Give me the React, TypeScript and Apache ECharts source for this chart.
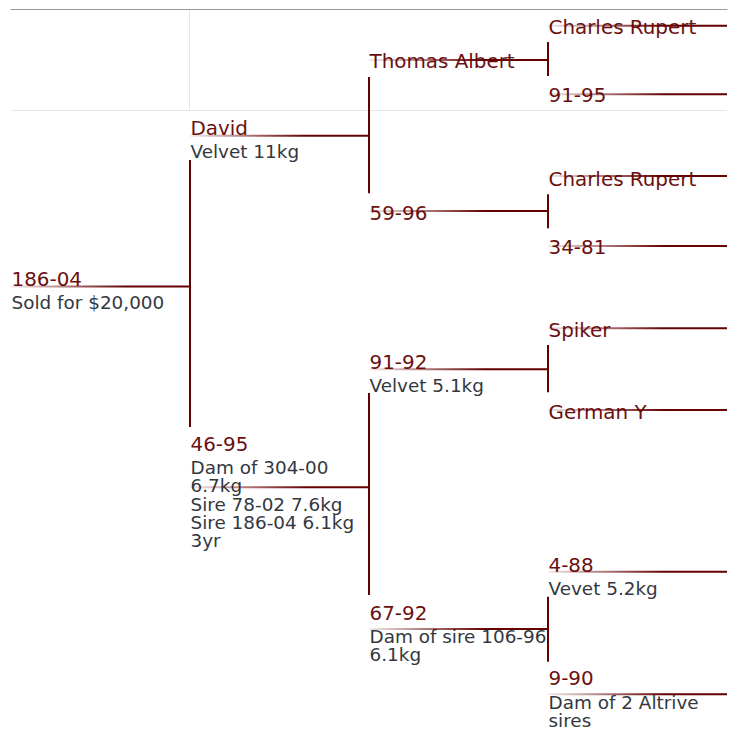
import React, { useEffect, useRef } from "react";
import * as echarts from "echarts";

// Pedigree nodes (generation = column, lineY = position of the node's branch, nameY = label position)
const names = [
  "186-04",
  "David",
  "46-95",
  "Thomas Albert",
  "59-96",
  "91-92",
  "67-92",
  "Charles Rupert",
  "91-95",
  "Charles Rupert",
  "34-81",
  "Spiker",
  "German Y",
  "4-88",
  "9-90",
];
const notes: string[][] = [
  ["Sold for $20,000"],
  ["Velvet 11kg"],
  ["Dam of 304-00", "6.7kg", "Sire 78-02 7.6kg", "Sire 186-04 6.1kg", "3yr"],
  [],
  [],
  ["Velvet 5.1kg"],
  ["Dam of sire 106-96", "6.1kg"],
  [],
  [],
  [],
  [],
  [],
  [],
  ["Vevet 5.2kg"],
  ["Dam of 2 Altrive", "sires"],
];
const generation = [0, 1, 1, 2, 2, 2, 2, 3, 3, 3, 3, 3, 3, 3, 3];
const lineY = [286.5, 135.7, 487.3, 60, 211, 369.3, 629, 25.7, 94.3, 176, 246, 328.3, 410, 571.7, 694.3];
const nameY = [279, 128, 444.3, 61, 213, 362, 613, 27.5, 95.3, 179, 247.5, 330, 412, 565.3, 678.7];

// Vertical connectors between a node and its two parents (sire / dam)
const connectorGen = [1, 2, 2, 3, 3, 3, 3];
const connectorFrom = [160, 77, 393, 42, 194.3, 345, 596.7];
const connectorTo = [427, 193.3, 595, 76, 228.3, 392.3, 661.7];

const FONT = "'DejaVu Sans', Verdana, sans-serif";
const NAME_COLOR = "#6b1010";
const NOTE_COLOR = "#333840";
const LINE_COLOR = "#640000";

export default function App() {
  const ref = useRef<HTMLDivElement>(null);

  useEffect(() => {
    document.body.style.margin = "0";
    const chart = echarts.init(ref.current as HTMLDivElement, null, { renderer: "svg" });

    const nodeData = names.map((_, i) => [generation[i], lineY[i], nameY[i], i]);
    const connectorData = connectorGen.map((g, i) => [g, connectorFrom[i], connectorTo[i]]);

    chart.setOption({
      animation: false,
      grid: { left: 11, right: 11, top: 9, bottom: 0 },
      xAxis: {
        type: "value",
        min: 0,
        max: 4,
        position: "top",
        axisLine: { show: true, lineStyle: { color: "#9a9a9a", width: 1 } },
        axisTick: { show: false },
        axisLabel: { show: false },
        splitLine: { show: false },
      },
      yAxis: { type: "value", min: 9, max: 729, inverse: true, show: false },
      graphic: [
        {
          type: "line",
          z: 0,
          shape: { x1: 11, y1: 110.5, x2: 727, y2: 110.5 },
          style: { stroke: "#e6e6e6", lineWidth: 1 },
        },
        {
          type: "line",
          z: 0,
          shape: { x1: 189.5, y1: 9, x2: 189.5, y2: 111 },
          style: { stroke: "#e6e6e6", lineWidth: 1 },
        },
      ],
      series: [
        {
          type: "custom",
          name: "labels",
          z: 2,
          data: nodeData,
          renderItem: (params: any, api: any) => {
            const i = api.value(3);
            const p = api.coord([api.value(0), api.value(2)]);
            const x = p[0] + 0.5;
            const y = p[1];
            const children: any[] = [
              {
                type: "text",
                style: {
                  text: names[i],
                  x,
                  y,
                  fill: NAME_COLOR,
                  fontSize: 19.9,
                  fontFamily: FONT,
                  align: "left",
                  verticalAlign: "middle",
                },
              },
            ];
            notes[i].forEach((t, k) => {
              children.push({
                type: "text",
                style: {
                  text: t,
                  x,
                  y: y + 23.3 + k * 18.3,
                  fill: NOTE_COLOR,
                  fontSize: 18.4,
                  fontFamily: FONT,
                  align: "left",
                  verticalAlign: "middle",
                },
              });
            });
            return { type: "group", children };
          },
        },
        {
          type: "custom",
          name: "branches",
          z: 3,
          data: nodeData,
          renderItem: (params: any, api: any) => {
            const g = api.value(0);
            const yv = api.value(1);
            const a = api.coord([g, yv]);
            const b = api.coord([g + 1, yv]);
            return {
              type: "rect",
              shape: { x: a[0], y: a[1] - 1, width: b[0] - a[0], height: 2 },
              style: {
                fill: new echarts.graphic.LinearGradient(0, 0, 1, 0, [
                  { offset: 0, color: "rgba(100,0,0,0.08)" },
                  { offset: 0.3, color: "rgba(100,0,0,0.5)" },
                  { offset: 0.65, color: "rgba(100,0,0,1)" },
                  { offset: 1, color: "rgba(100,0,0,1)" },
                ]),
              },
            };
          },
        },
        {
          type: "custom",
          name: "connectors",
          z: 3,
          data: connectorData,
          renderItem: (params: any, api: any) => {
            const g = api.value(0);
            const a = api.coord([g, api.value(1)]);
            const b = api.coord([g, api.value(2)]);
            return {
              type: "rect",
              shape: { x: a[0] - 1, y: a[1], width: 2, height: b[1] - a[1] },
              style: { fill: LINE_COLOR },
            };
          },
        },
      ],
    });

    return () => chart.dispose();
  }, []);

  return <div ref={ref} style={{ width: 738, height: 729 }} />;
}
